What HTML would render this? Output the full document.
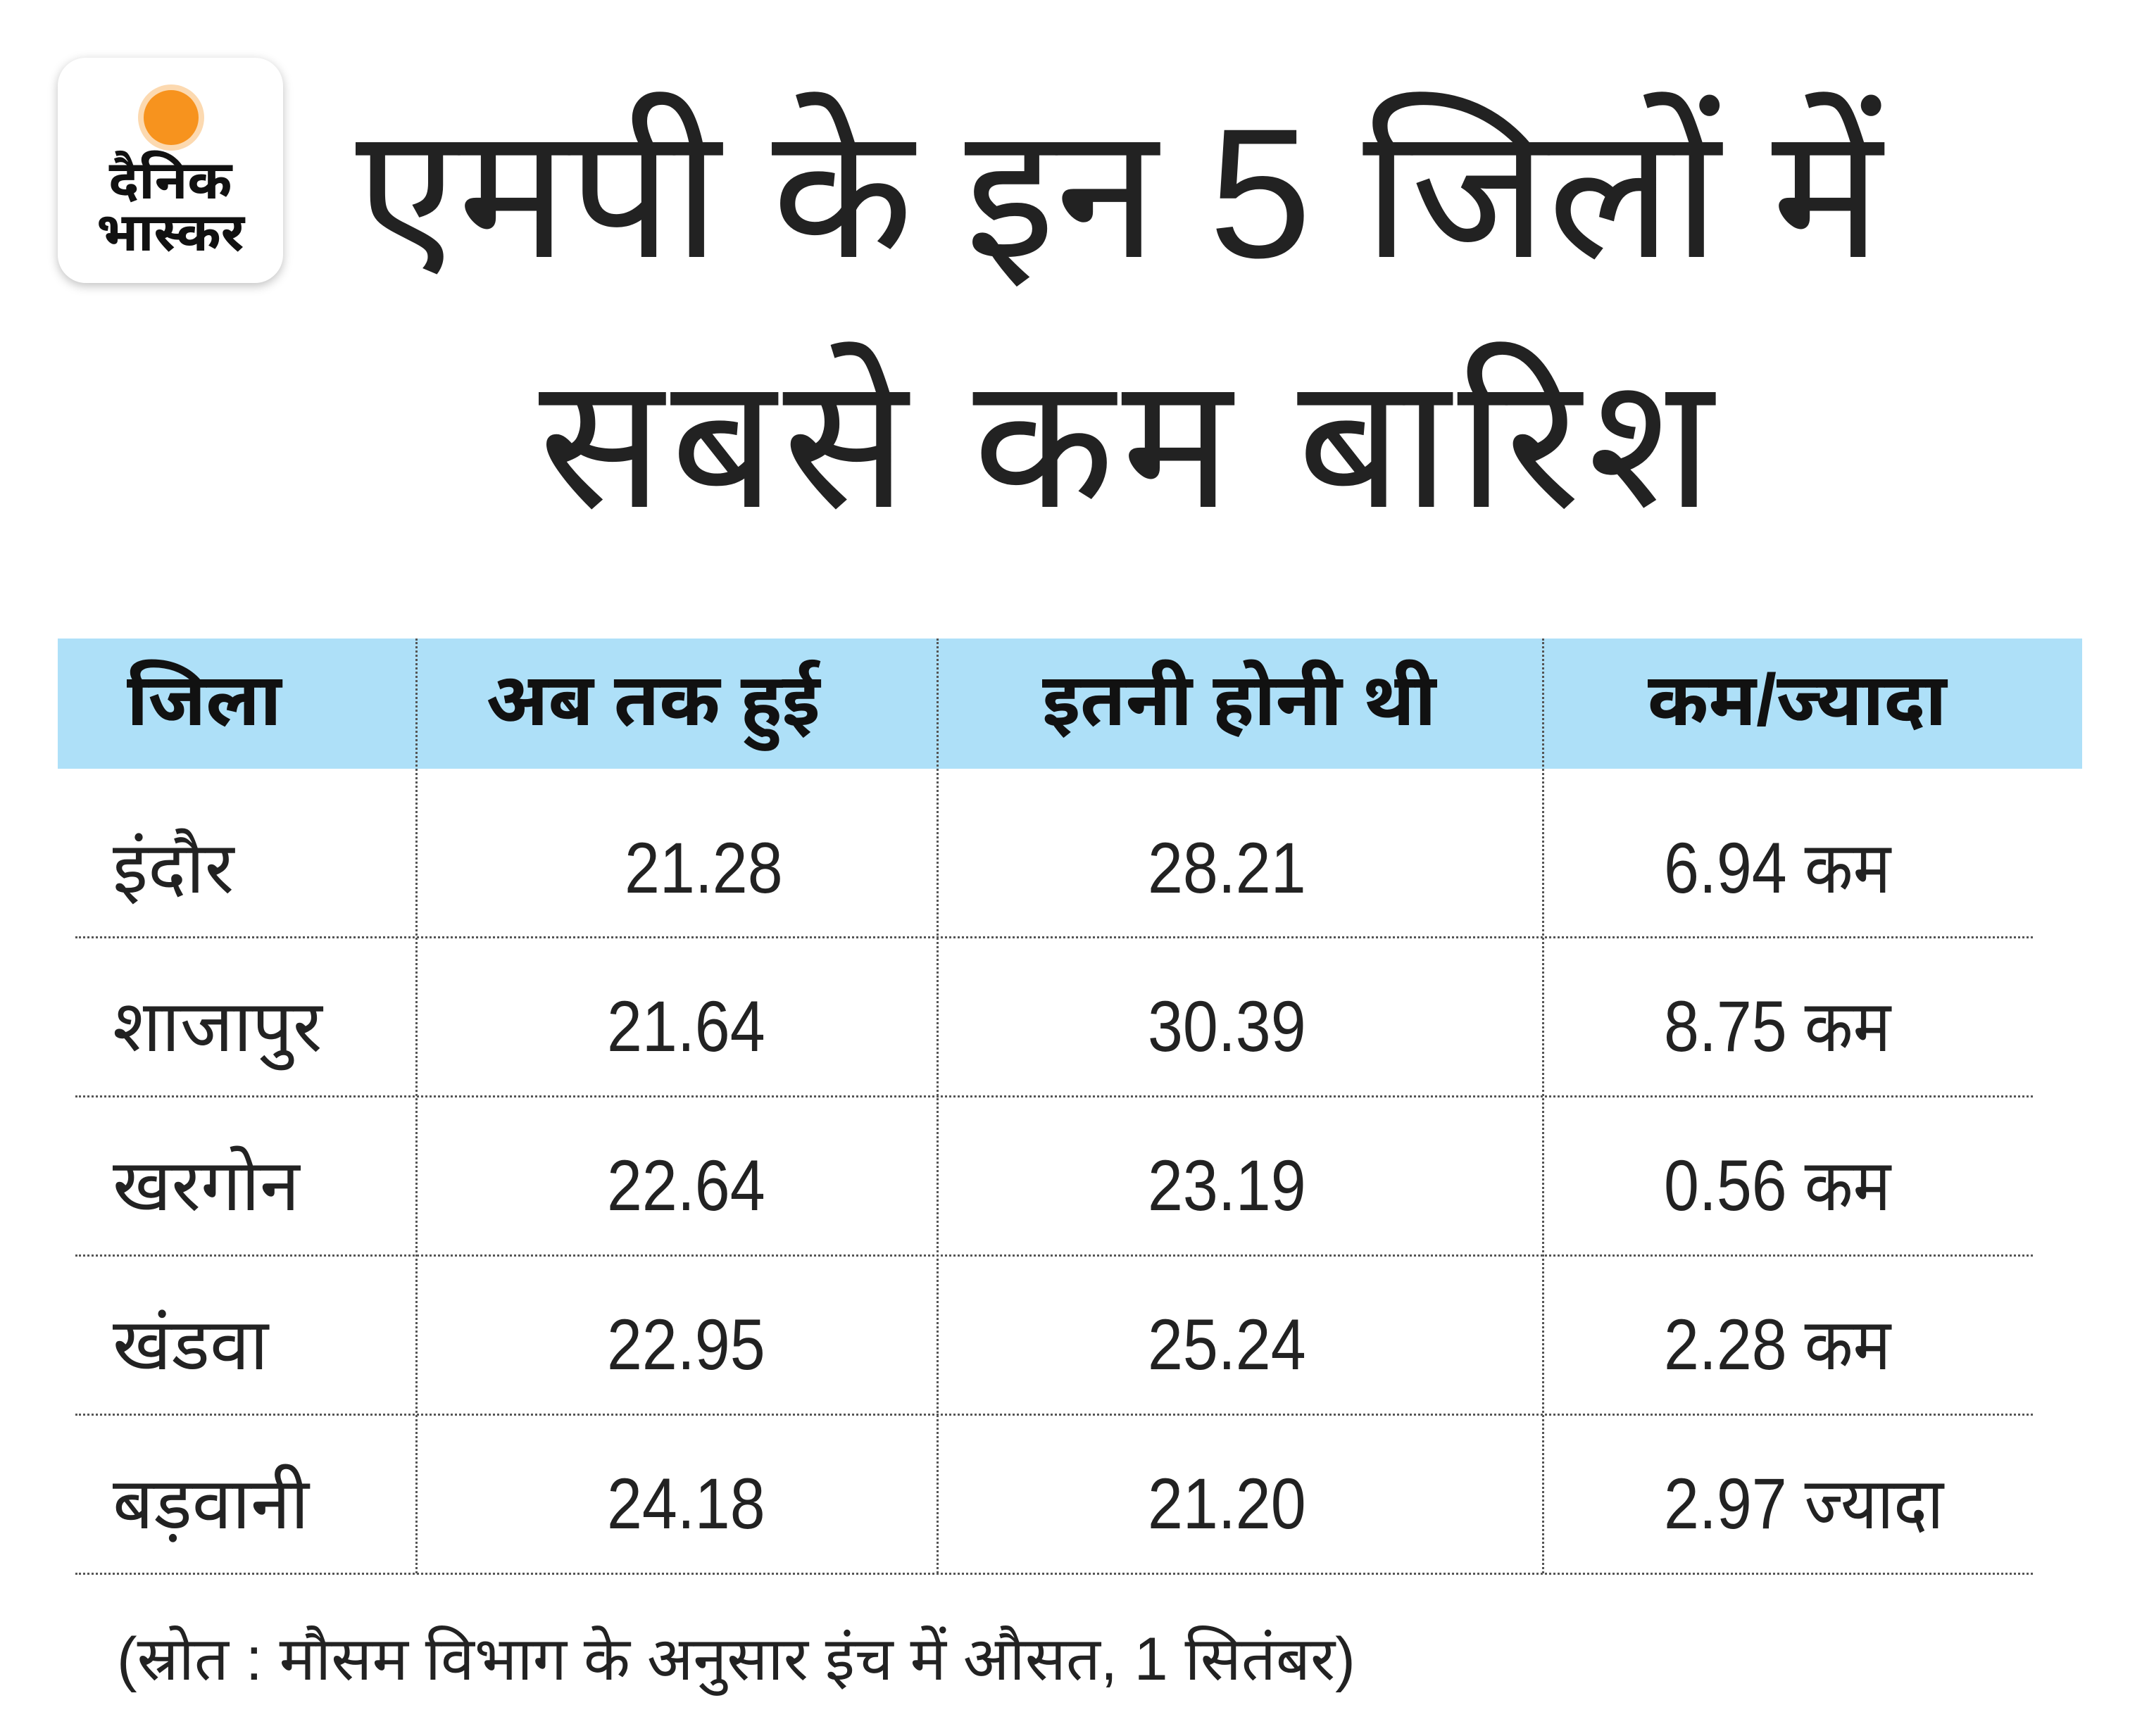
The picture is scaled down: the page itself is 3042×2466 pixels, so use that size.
<!DOCTYPE html>
<html><head><meta charset="utf-8">
<style>
body{margin:0;width:3042px;height:2466px;background:#fff;position:relative;overflow:hidden;font-family:"Liberation Sans","Noto Sans Devanagari","Lohit Devanagari",sans-serif;color:#222}
.a{position:absolute;white-space:nowrap}
.logo{left:82px;top:82px;width:320px;height:320px;border-radius:40px;background:#fff;box-shadow:0 4px 14px rgba(0,0,0,.25)}
.sun{left:204px;top:128px;width:78px;height:78px;border-radius:50%;background:#f7931e;box-shadow:0 0 0 8px rgba(247,147,30,.35)}
.vl{position:absolute;top:907px;height:1328px;border-left:3px dotted #555}
.hl{position:absolute;left:107px;width:2780px;border-top:3px dotted #555}
.h{font-weight:bold;font-size:104px;top:936px;color:#111}
.c{font-size:102px;line-height:1;transform-origin:0 0;transform:scaleX(0.88)}
</style></head><body>
<div class="a logo"></div>
<div class="a sun"></div>
<div class="a" style="left:120px;top:220px;width:244px;text-align:center;font-weight:bold;font-size:76px;line-height:74px;color:#111">दैनिक<br>भास्कर</div>
<div class="a" style="left:505px;top:135px;font-size:262px;line-height:280px">एमपी के इन 5 जिलों में</div>
<div class="a" style="left:765px;top:490px;font-size:262px;line-height:280px;letter-spacing:10px">सबसे कम बारिश</div>
<div class="a" style="left:82px;top:907px;width:2875px;height:185px;background:#aee0f8"></div>
<div class="a h" style="left:180px">जिला</div>
<div class="a h" style="left:690px">अब तक हुई</div>
<div class="a h" style="left:1480px">इतनी होनी थी</div>
<div class="a h" style="left:2340px">कम/ज्यादा</div>
<div class="vl" style="left:590px"></div>
<div class="vl" style="left:1330px"></div>
<div class="vl" style="left:2190px"></div>
<div class="hl" style="top:1330px"></div>
<div class="hl" style="top:1556px"></div>
<div class="hl" style="top:1782px"></div>
<div class="hl" style="top:2008px"></div>
<div class="hl" style="top:2234px"></div>
<div class="a c" style="left:160px;top:1182px;transform:none">इंदौर</div>
<div class="a c" style="left:887px;top:1182px">21.28</div>
<div class="a c" style="left:1630px;top:1182px">28.21</div>
<div class="a c" style="left:2363px;top:1182px">6.94 कम</div>
<div class="a c" style="left:160px;top:1407px;transform:none">शाजापुर</div>
<div class="a c" style="left:862px;top:1407px">21.64</div>
<div class="a c" style="left:1630px;top:1407px">30.39</div>
<div class="a c" style="left:2363px;top:1407px">8.75 कम</div>
<div class="a c" style="left:160px;top:1633px;transform:none">खरगोन</div>
<div class="a c" style="left:862px;top:1633px">22.64</div>
<div class="a c" style="left:1630px;top:1633px">23.19</div>
<div class="a c" style="left:2363px;top:1633px">0.56 कम</div>
<div class="a c" style="left:160px;top:1859px;transform:none">खंडवा</div>
<div class="a c" style="left:862px;top:1859px">22.95</div>
<div class="a c" style="left:1630px;top:1859px">25.24</div>
<div class="a c" style="left:2363px;top:1859px">2.28 कम</div>
<div class="a c" style="left:160px;top:2085px;transform:none">बड़वानी</div>
<div class="a c" style="left:862px;top:2085px">24.18</div>
<div class="a c" style="left:1630px;top:2085px">21.20</div>
<div class="a c" style="left:2363px;top:2085px">2.97 ज्यादा</div>
<div class="a" style="left:166px;top:2314px;font-size:86px;line-height:1">(स्रोत : मौसम विभाग के अनुसार इंच में औसत, 1 सितंबर)</div>
</body></html>
